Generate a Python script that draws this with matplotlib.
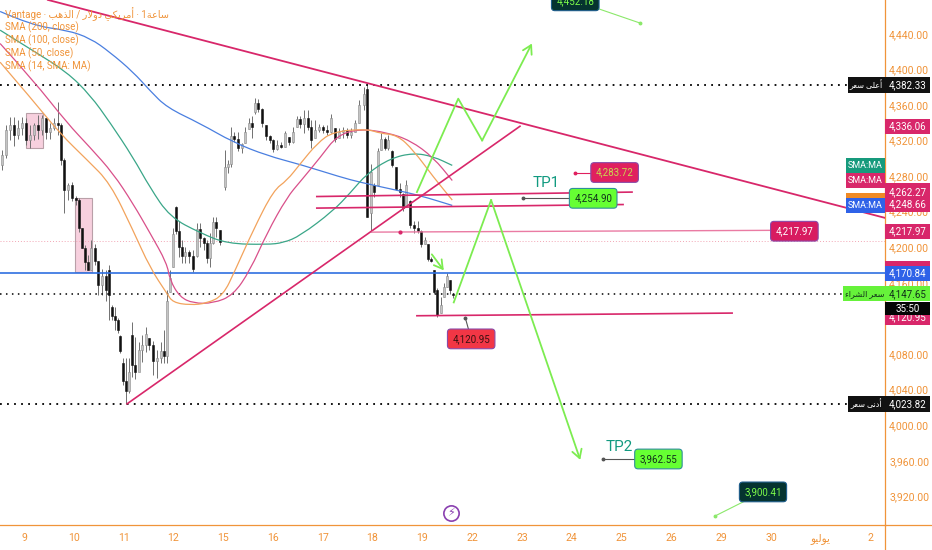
import matplotlib
matplotlib.use('Agg')
import matplotlib.pyplot as plt
from matplotlib.patches import Rectangle, PathPatch
from matplotlib.path import Path
import numpy as np

plt.rcParams['font.family'] = ['Roboto', 'DejaVu Sans']

# Arabic is typed in presentation forms, left to right, since matplotlib does not shape it
AR_HIGH = "\uFEAE\uFECC\uFEB3 \uFEF0\uFEE0\uFECB\uFE83"
AR_LOW = "\uFEAE\uFECC\uFEB3 \uFEF0\uFEE7\uFEA9\uFE83"
AR_BUY = "\uFE80\uFE8D\uFEAE\uFEB8\uFEDF\uFE8D \uFEAE\uFECC\uFEB3"
AR_JULY = "\uFEEE\uFEF4\uFEDF\uFEEE\uFEF3"
AR_TITLE = ("Vantage · \uFE90\uFEEB\uFEAC\uFEDF\uFE8D / \uFEAD\uFEFB\uFEED\uFEA9 "
            "\uFEF2\uFEDC\uFEF3\uFEAE\uFEE3\uFE83 · 1\uFE94\uFECB\uFE8E\uFEB3")

#candles, x in trading days from the 9th
#---------------------------------------------------------------------------
bar_day = [-.44, -.36, -.28, -.20, -.12, -.04, .04, .12, .20, .28,
           .36, .44, .52, .60, .68, .74, .80, .88, .96, 1.04,
           1.10, 1.16, 1.22, 1.29, 1.35, 1.43, 1.49, 1.57, 1.65, 1.71,
           1.77, 1.83, 1.89, 1.93, 1.99, 2.05, 2.11, 2.17, 2.23, 2.31,
           2.37, 2.45, 2.51, 2.59, 2.67, 2.75, 2.81, 2.87, 2.93, 2.99,
           3.05, 3.11, 3.17, 3.23, 3.31, 3.39, 3.47, 3.53, 3.61, 3.67,
           3.73, 3.80, 3.86, 3.94, 4.04, 4.10, 4.16, 4.22, 4.30, 4.38,
           4.44, 4.52, 4.58, 4.64, 4.70, 4.78, 4.86, 4.94, 5.00, 5.08,
           5.16, 5.24, 5.32, 5.40, 5.48, 5.54, 5.62, 5.70, 5.76, 5.84,
           5.92, 6.00, 6.08, 6.16, 6.24, 6.33, 6.41, 6.49, 6.57, 6.65,
           6.73, 6.83, 6.89, 6.97, 7.03, 7.11, 7.17, 7.25, 7.31, 7.39,
           7.47, 7.55, 7.61, 7.67, 7.75, 7.83, 7.91, 7.97, 8.05, 8.11,
           8.17, 8.23, 8.29, 8.37, 8.43, 8.49, 8.55, 8.61]
bar_open = [4292, 4304, 4332, 4337, 4326, 4334, 4340, 4320, 4326, 4337,
            4332, 4345, 4329, 4334, 4340, 4337, 4298, 4264, 4270, 4255,
            4253, 4222, 4199, 4183, 4174, 4199, 4185, 4157, 4168, 4174,
            4133, 4123, 4118, 4100, 4070, 4050, 4038, 4101, 4068, 4060,
            4085, 4090, 4098, 4090, 4072, 4075, 4083, 4078, 4150, 4178,
            4245, 4218, 4200, 4190, 4195, 4190, 4190, 4220, 4210, 4205,
            4188, 4205, 4228, 4219, 4268, 4290, 4294, 4325, 4322, 4312,
            4317, 4333, 4340, 4352, 4362, 4355, 4337, 4325, 4320, 4310,
            4315, 4313, 4324, 4318, 4335, 4344, 4338, 4345, 4335, 4323,
            4332, 4335, 4332, 4330, 4334, 4323, 4330, 4332, 4326, 4330,
            4340, 4360, 4378, 4238, 4270, 4270, 4309, 4322, 4312, 4308,
            4290, 4266, 4260, 4245, 4252, 4225, 4222, 4218, 4204, 4204,
            4187, 4174, 4152, 4126, 4144, 4155, 4163, 4148]
bar_high = [4309, 4337, 4346, 4346, 4343, 4346, 4345, 4337, 4340, 4349,
            4349, 4345, 4340, 4345, 4363, 4340, 4300, 4272, 4273, 4258,
            4255, 4222, 4202, 4191, 4208, 4204, 4185, 4176, 4174, 4180,
            4135, 4133, 4120, 4101, 4075, 4075, 4076, 4116, 4099, 4093,
            4101, 4110, 4098, 4095, 4084, 4093, 4107, 4152, 4174, 4222,
            4246, 4230, 4208, 4200, 4197, 4197, 4227, 4227, 4211, 4208,
            4216, 4234, 4234, 4219, 4309, 4298, 4335, 4330, 4330, 4317,
            4335, 4345, 4348, 4368, 4367, 4357, 4337, 4326, 4322, 4320,
            4318, 4331, 4324, 4335, 4348, 4348, 4354, 4354, 4343, 4343,
            4339, 4337, 4337, 4350, 4334, 4334, 4335, 4334, 4334, 4343,
            4365, 4380, 4382, 4294, 4272, 4312, 4328, 4324, 4326, 4309,
            4290, 4272, 4261, 4276, 4253, 4230, 4230, 4219, 4211, 4204,
            4189, 4174, 4154, 4144, 4160, 4171, 4163, 4148]
bar_low = [4287, 4300, 4320, 4314, 4322, 4326, 4315, 4312, 4320, 4322,
           4326, 4322, 4322, 4332, 4326, 4292, 4238, 4253, 4252, 4247,
           4217, 4199, 4174, 4174, 4174, 4180, 4146, 4146, 4140, 4118,
           4118, 4107, 4104, 4081, 4045, 4024, 4036, 4054, 4052, 4070,
           4071, 4082, 4084, 4056, 4053, 4070, 4070, 4070, 4150, 4178,
           4215, 4189, 4182, 4182, 4182, 4172, 4189, 4200, 4197, 4182,
           4178, 4204, 4211, 4202, 4264, 4284, 4290, 4318, 4308, 4306,
           4317, 4333, 4323, 4350, 4352, 4335, 4320, 4317, 4307, 4309,
           4311, 4313, 4315, 4317, 4335, 4334, 4328, 4332, 4312, 4323,
           4329, 4328, 4326, 4328, 4318, 4323, 4323, 4323, 4323, 4329,
           4340, 4354, 4234, 4217, 4256, 4270, 4309, 4309, 4309, 4290,
           4264, 4256, 4241, 4245, 4222, 4216, 4216, 4200, 4204, 4185,
           4183, 4148, 4122, 4126, 4144, 4155, 4148, 4143]
bar_close = [4304, 4332, 4337, 4326, 4334, 4340, 4320, 4326, 4337, 4332,
             4345, 4329, 4334, 4340, 4337, 4298, 4264, 4270, 4255, 4253,
             4222, 4199, 4183, 4174, 4199, 4185, 4157, 4168, 4152, 4146,
             4123, 4118, 4107, 4083, 4050, 4038, 4060, 4068, 4060, 4085,
             4090, 4102, 4090, 4072, 4075, 4083, 4078, 4140, 4165, 4215,
             4218, 4200, 4190, 4195, 4190, 4175, 4220, 4210, 4205, 4188,
             4205, 4228, 4222, 4206, 4290, 4294, 4325, 4322, 4312, 4316,
             4330, 4340, 4335, 4362, 4355, 4340, 4325, 4320, 4310, 4315,
             4313, 4328, 4318, 4330, 4344, 4338, 4345, 4335, 4320, 4332,
             4335, 4332, 4330, 4345, 4322, 4330, 4332, 4326, 4330, 4340,
             4360, 4372, 4234, 4285, 4262, 4308, 4322, 4312, 4320, 4292,
             4266, 4262, 4244, 4270, 4225, 4222, 4218, 4204, 4208, 4187,
             4185, 4150, 4124, 4135, 4155, 4168, 4152, 4146]

#moving averages
#---------------------------------------------------------------------------
sma200_day = [-.48, .18, .86, 1.33, 1.73, 2.19, 2.53, 2.87, 3.54, 4.20, 4.88, 5.55, 6.35, 6.75, 7.41, 7.96, 8.60]
sma200 = [4465, 4449, 4444, 4435, 4419, 4397, 4376, 4357, 4339, 4318, 4303, 4293, 4279, 4273, 4265, 4258, 4247]
sma100_day = [-.48, .18, .86, 1.33, 1.73, 2.19, 2.53, 2.93, 3.54, 4.08, 4.88, 5.21, 5.55, 6.21, 6.55, 6.89, 7.36, 7.82, 8.22, 8.60]
sma100 = [4444, 4421, 4397, 4371, 4340, 4301, 4267, 4234, 4216, 4204, 4203, 4205, 4213, 4241, 4261, 4283, 4300, 4306, 4302, 4292]
sma50_day = [-.48, .18, .86, 1.33, 1.79, 2.19, 2.53, 2.87, 2.93, 3.13, 3.40, 3.80, 4.20, 4.54, 4.88, 5.28, 5.55, 5.95, 6.29, 6.75, 7.29, 7.76, 8.22, 8.60]
sma50 = [4429, 4388, 4340, 4312, 4283, 4249, 4216, 4182, 4163, 4144, 4137, 4137, 4146, 4174, 4216, 4256, 4274, 4301, 4326, 4333, 4329, 4320, 4301, 4275]
sma14_day = [-.48, .18, .72, 1.27, 1.73, 2.19, 2.53, 2.87, 2.99, 3.33, 3.68, 4.00, 4.24, 4.60, 5.01, 5.28, 5.55, 5.89, 6.21, 6.89, 7.15, 7.50, 7.82, 8.22, 8.60]
sma14 = [4408, 4365, 4328, 4298, 4272, 4219, 4177, 4148, 4138, 4135, 4137, 4146, 4174, 4219, 4264, 4275, 4294, 4317, 4330, 4333, 4328, 4326, 4309, 4279, 4253]

#drawings
#---------------------------------------------------------------------------
trend_down_day = [.48, 17.29]
trend_down = [4478, 4233]
trend_up_day = [2.07, 9.96]
trend_up = [4024, 4336]
level_a_day = [5.88, 12.21]
level_a = [4257, 4262]
level_b_day = [5.88, 12.03]
level_b = [4244, 4248]
level_c_day = [6.99, 15.02]
level_c = [4217, 4219]
support_day = [7.89, 14.22]
support = [4123, 4126]
zig_up_day = [7.89, 8.72, 9.20, 10.20]
zig_up = [4262, 4367, 4320, 4429]
zig_down_day = [8.63, 9.38, 11.17]
zig_down = [4138, 4253, 3961]
small_arrow_day = [8.19, 8.43]
small_arrow = [4192, 4174]

# label: text, box centre day, box centre price, anchor day, anchor price, box colour, text colour, edge, leader
price_notes = [
    ("4,452.18", 11.07, 4477, 12.37, 4452, '#05332f', '#7dfc4a', '#1d5c8a', '#8be86a'),
    ("3,900.41", 14.84, 3925, 13.88, 3898, '#05332f', '#7dfc4a', '#1d5c8a', '#8be86a'),
    ("4,283.72", 11.86, 4284, 11.06, 4284, '#e0205f', '#c8d850', '#8a4aa8', '#e0205f'),
    ("4,254.90", 11.43, 4255, 10.02, 4255, '#66ff33', '#10301a', '#2f8f9a', '#555555'),
    ("4,217.97", 15.47, 4218, 15.47, 4218, '#d81b60', '#ffffff', '#8a4aa8', '#e0205f'),
    ("4,120.95", 8.98, 4097, 8.86, 4121, '#f23645', '#3a1010', '#8a4aa8', '#555555'),
    ("3,962.55", 12.74, 3962, 11.63, 3962, '#66ff33', '#10301a', '#2f8f9a', '#555555'),
]

box_a_day = [.04, .38]
box_a = [4312, 4351]
box_b_day = [1.03, 1.37]
box_b = [4172, 4255]

price_ticks = [4440, 4400, 4360, 4320, 4280, 4240, 4200, 4160, 4120, 4080, 4040, 4000, 3960, 3920]
day_ticks = list(range(18))
day_labels = ['9', '10', '11', '12', '15', '16', '17', '18', '19', '22', '23', '24',
              '25', '26', '29', '30', AR_JULY, '2']
legend_lines = [AR_TITLE, "SMA (200, close)", "SMA (100, close)", "SMA (50, close)", "SMA (14, SMA: MA)"]

high_price = 4382.33
low_price = 4023.82
buy_price = 4147.65
line_price = 4170.84
faint_price = 4207

ORANGE = '#f0943a'
CRIMSON = '#d8276a'
LIME = '#7cec50'


def smooth_line(ax, xs, ys, color, lw=0.9, zorder=4):
    # quadratic curves through the midpoints, so the averages do not show kinks
    pts = [(xs[0], ys[0])]
    codes = [Path.MOVETO]
    for i in range(1, len(xs) - 1):
        pts.append((xs[i], ys[i]))
        pts.append(((xs[i] + xs[i + 1]) / 2, (ys[i] + ys[i + 1]) / 2))
        codes += [Path.CURVE3, Path.CURVE3]
    pts.append((xs[-1], ys[-1]))
    codes.append(Path.LINETO)
    ax.add_patch(PathPatch(Path(pts, codes), fc='none', ec=color, lw=lw, zorder=zorder))


fig = plt.figure(figsize=(9.32, 5.5), dpi=100)
ax = fig.add_axes([0, 25 / 550, 885 / 932, 525 / 550])
ax.set_xlim(-0.482, 17.29)
ax.set_ylim(3887.8, 4477.9)

# highlight boxes
for xs, ys in [(box_a_day, box_a), (box_b_day, box_b)]:
    ax.add_patch(Rectangle((xs[0], ys[0]), xs[1] - xs[0], ys[1] - ys[0], fc='#f7d0de', ec='#b9a0a8', lw=0.8, zorder=1))

# candles
day = np.array(bar_day)
o = np.array(bar_open)
c = np.array(bar_close)
up = c >= o
ax.vlines(day, bar_low, bar_high, color='#707070', lw=0.7, zorder=2)
ax.bar(day[up], (c - o)[up], bottom=o[up], width=0.04, color='#c4c4c4', edgecolor='#8a8a8a', lw=0.4, zorder=3)
ax.bar(day[~up], (c - o)[~up], bottom=o[~up], width=0.04, color='#111111', edgecolor='#111111', lw=0.4, zorder=3)

# horizontal levels
ax.axhline(line_price, color='#2f6fe0', lw=1.2, zorder=4)
ax.axhline(faint_price, color='#f2a6b4', lw=0.7, ls=(0, (1, 2)), zorder=1)
dots = (0, (1, 2.9))
ax.plot([-0.482, 16.55], [high_price, high_price], color='black', lw=1.3, ls=dots, zorder=4)
ax.plot([-0.482, 16.55], [low_price, low_price], color='black', lw=1.3, ls=dots, zorder=4)
ax.plot([-0.482, 16.45], [buy_price, buy_price], color='black', lw=1.1, ls=dots, zorder=4)

# moving averages
smooth_line(ax, sma200_day, sma200, '#4a7fe0')
smooth_line(ax, sma100_day, sma100, '#3aa688')
smooth_line(ax, sma50_day, sma50, '#d9508a')
smooth_line(ax, sma14_day, sma14, '#f2a35c')

# trend lines and levels
ax.plot(trend_down_day, trend_down, color=CRIMSON, lw=1.3, zorder=5)
ax.plot(trend_up_day, trend_up, color=CRIMSON, lw=1.2, zorder=5)
ax.plot(level_a_day, level_a, color=CRIMSON, lw=1.2, zorder=5)
ax.plot(level_b_day, level_b, color=CRIMSON, lw=1.2, zorder=5)
ax.plot(level_c_day, level_c, color='#ea7ba3', lw=1.0, zorder=5)
ax.plot(support_day, support, color=CRIMSON, lw=1.2, zorder=5)
ax.plot([7.55], [4217], marker='o', ms=2, color=CRIMSON, zorder=5)

# green projection paths
head = dict(arrowstyle='->,head_length=0.6,head_width=0.35', color=LIME, lw=1.3, shrinkA=0, shrinkB=0)
ax.plot(zig_up_day[:-1], zig_up[:-1], color=LIME, lw=1.3, zorder=6)
ax.annotate('', xy=(zig_up_day[-1], zig_up[-1]), xytext=(zig_up_day[-2], zig_up[-2]), arrowprops=head, zorder=6)
ax.plot(zig_down_day[:-1], zig_down[:-1], color=LIME, lw=1.3, zorder=6)
ax.annotate('', xy=(zig_down_day[-1], zig_down[-1]), xytext=(zig_down_day[-2], zig_down[-2]), arrowprops=head, zorder=6)
ax.annotate('', xy=(small_arrow_day[1], small_arrow[1]), xytext=(small_arrow_day[0], small_arrow[0]), arrowprops=head, zorder=6)

# price notes with leader lines
for text, bx, by, ax_day, ax_price, fc, tc, ec, lead in price_notes:
    ax.plot([ax_day, bx], [ax_price, by], color=lead, lw=0.8, zorder=6)
    ax.plot([ax_day], [ax_price], marker='o', ms=1.8, color=lead, zorder=6)
    ax.text(bx, by, text, ha='center', va='center', fontsize=7, color=tc, zorder=7, clip_on=True,
            bbox=dict(boxstyle='round,pad=0.5,rounding_size=0.35', fc=fc, ec=ec, lw=0.8))

ax.text(10.48, 4272, 'TP1', color='#119a80', fontsize=11, ha='center', va='center', zorder=7)
ax.text(11.95, 3975, 'TP2', color='#119a80', fontsize=11, ha='center', va='center', zorder=7)

# lightning mark
ax.plot([8.57], [3901], marker='o', ms=11, mfc='white', mec='#8a3fb0', mew=1.2, zorder=7)
ax.text(8.57, 3901, '\u26A1', color='#8a3fb0', fontsize=8, family=['DejaVu Sans'], ha='center', va='center', zorder=8)

# legend
for i, line in enumerate(legend_lines):
    ax.text(5 / 885, 1 - (14 + i * 13) / 525, line, transform=ax.transAxes, color=ORANGE, fontsize=7,
            va='center', ha='left', zorder=9)

# axes and tick labels
ax.spines['top'].set_visible(False)
ax.spines['left'].set_visible(False)
for side in ['right', 'bottom']:
    ax.spines[side].set_color(ORANGE)
    ax.spines[side].set_linewidth(0.9)
ax.yaxis.tick_right()
ax.set_yticks(price_ticks)
ax.set_yticklabels([f'{p:,.2f}' for p in price_ticks])
ax.set_xticks(day_ticks)
ax.set_xticklabels(day_labels)
ax.tick_params(axis='both', length=0, labelcolor=ORANGE, labelsize=7.6)
ax.tick_params(axis='x', pad=6)
ax.tick_params(axis='y', pad=3)
ax.plot([1, 1], [0, -25 / 525], color=ORANGE, lw=0.9, transform=ax.transAxes, clip_on=False)
ax.plot([1, 932 / 885], [0, 0], color=ORANGE, lw=0.9, transform=ax.transAxes, clip_on=False)


def side_tag(price, text, fc, tc, x0=1.0, x1=1.0508, height=17.0, size=7, zorder=10):
    # tag on the price scale, x in axes fractions and y in price
    tr = ax.get_yaxis_transform()
    ax.add_patch(Rectangle((x0, price - height / 2), x1 - x0, height, fc=fc, ec='none', transform=tr,
                           clip_on=False, zorder=zorder))
    ax.text((x0 + x1) / 2, price, text, color=tc, fontsize=size, ha='center', va='center', transform=tr,
            clip_on=False, zorder=zorder + 0.5)


side_tag(4382.33, '4,382.33', '#111111', 'white')
side_tag(4382.33, AR_HIGH, '#111111', 'white', x0=0.958, x1=1.0, size=5.8)
side_tag(4023.82, '4,023.82', '#111111', 'white')
side_tag(4023.82, AR_LOW, '#111111', 'white', x0=0.958, x1=1.0, size=5.8)
side_tag(4336.06, '4,336.06', CRIMSON, 'white')
side_tag(4248.66, '4,248.66', CRIMSON, 'white', zorder=10)
side_tag(4262.27, '4,262.27', CRIMSON, 'white', zorder=11, height=19)
side_tag(4217.97, '4,217.97', CRIMSON, 'white')
side_tag(4176, '', CRIMSON, 'white', zorder=10)
side_tag(4170.84, '4,170.84', '#2f62e8', 'white', zorder=11)
side_tag(4120.95, '4,120.95', CRIMSON, 'white', zorder=10)
side_tag(4131, '35:50', '#050505', 'white', zorder=11, height=14.6)
side_tag(4147.65, '4,147.65', '#66f23a', '#10301a', zorder=12)
side_tag(4147.65, AR_BUY, '#66f23a', '#10301a', x0=0.953, x1=1.0, size=5.8, zorder=12)
side_tag(4292, 'SMA:MA', '#169a7c', 'white', x0=0.956, x1=1.0, size=6.5, zorder=11)
side_tag(4275, 'SMA:MA', CRIMSON, 'white', x0=0.956, x1=1.0, size=6.5, zorder=11)
side_tag(4258, '', '#ef8a25', 'white', x0=0.956, x1=1.0, height=5, zorder=10)
side_tag(4247, 'SMA:MA', '#2f62e8', 'white', x0=0.956, x1=1.0, size=6.5, zorder=11)

plt.savefig('out.png', dpi=100)
